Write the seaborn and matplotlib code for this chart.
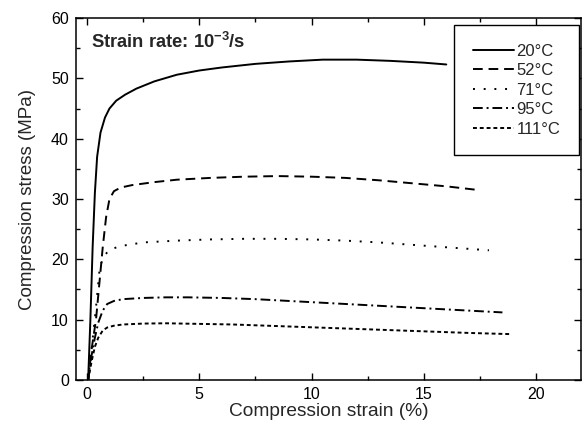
import matplotlib
matplotlib.use("Agg")
import matplotlib.pyplot as plt
import seaborn as sns
import pandas as pd
from matplotlib.ticker import MultipleLocator

# ---- data ----
strain_20 = [0.05, 0.15, 0.25, 0.35, 0.45, 0.6, 0.8, 1.0, 1.3, 1.7, 2.2, 3.0, 4.0, 5.0, 6.0, 7.5, 9.0, 10.5, 12.0, 13.5, 15.0, 16.0]
stress_20 = [0, 10, 22, 31, 37, 41, 43.5, 45, 46.3, 47.3, 48.3, 49.5, 50.6, 51.3, 51.8, 52.4, 52.8, 53.1, 53.1, 52.9, 52.6, 52.3]

strain_52 = [0.05, 0.2, 0.4, 0.55, 0.7, 0.85, 1.0, 1.2, 1.5, 2.0, 3.0, 4.0, 5.5, 7.0, 8.5, 10.0, 11.5, 13.0, 14.5, 16.0, 17.4]
stress_52 = [0, 5, 10, 16, 22, 27, 30, 31.3, 31.9, 32.3, 32.8, 33.2, 33.5, 33.7, 33.8, 33.7, 33.5, 33.1, 32.6, 32.1, 31.5]

strain_71 = [0.05, 0.2, 0.4, 0.55, 0.7, 1.0, 1.5, 2.5, 4.0, 5.5, 7.0, 8.5, 10.0, 11.5, 13.0, 14.5, 16.0, 17.9]
stress_71 = [0, 5, 12, 18, 20.3, 21.6, 22.2, 22.8, 23.1, 23.3, 23.4, 23.4, 23.3, 23.1, 22.8, 22.4, 22.0, 21.5]

strain_95 = [0.05, 0.2, 0.35, 0.5, 0.7, 0.9, 1.2, 1.6, 2.5, 3.5, 4.5, 6.0, 7.5, 9.0, 10.5, 12.0, 13.5, 15.0, 16.5, 18.5]
stress_95 = [0, 4, 7, 9.5, 11.5, 12.6, 13.1, 13.4, 13.6, 13.7, 13.7, 13.6, 13.4, 13.1, 12.8, 12.5, 12.2, 11.9, 11.6, 11.2]

strain_111 = [0.05, 0.2, 0.35, 0.5, 0.7, 0.9, 1.2, 1.6, 2.5, 3.5, 5.0, 6.5, 8.0, 9.5, 11.0, 12.5, 14.0, 15.5, 17.0, 18.9]
stress_111 = [0, 3, 5.5, 7, 8.2, 8.7, 9.0, 9.2, 9.35, 9.4, 9.3, 9.2, 9.0, 8.8, 8.6, 8.4, 8.2, 8.0, 7.8, 7.6]

labels = ["20\u00b0C", "52\u00b0C", "71\u00b0C", "95\u00b0C", "111\u00b0C"]
strains = [strain_20, strain_52, strain_71, strain_95, strain_111]
stresses = [stress_20, stress_52, stress_71, stress_95, stress_111]

# ---- styling ----
sns.set_theme(style="ticks")
plt.rcParams["font.family"] = ["Liberation Sans", "DejaVu Sans"]
plt.rcParams["mathtext.fontset"] = "custom"
plt.rcParams["mathtext.rm"] = "Liberation Sans"
plt.rcParams["mathtext.bf"] = "Liberation Sans:bold"
plt.rcParams["xtick.direction"] = "in"
plt.rcParams["ytick.direction"] = "in"

dashes = [(None, None), (5, 3), (1, 4.5), (5, 2, 1, 2), (2, 1.5)]

fig = plt.figure(figsize=(5.83, 4.24), dpi=100)
ax = fig.add_axes([0.130, 0.1038, 0.8666, 0.8537])

for lab, xs, ys, d in zip(labels, strains, stresses, dashes):
    df = pd.DataFrame({"strain": xs, "stress": ys})
    sns.lineplot(data=df, x="strain", y="stress", ax=ax, color="black",
                 linewidth=1.4, sort=False, label=lab, estimator=None)
    ln = ax.lines[-1]
    if d[0] is None:
        ln.set_linestyle("-")
    else:
        ln.set_dashes(d)

ax.set_xlim(-0.5, 22)
ax.set_ylim(0, 60)
ax.xaxis.set_major_locator(MultipleLocator(5))
ax.xaxis.set_minor_locator(MultipleLocator(2.5))
ax.yaxis.set_major_locator(MultipleLocator(10))
ax.yaxis.set_minor_locator(MultipleLocator(5))
ax.tick_params(which="both", top=True, right=True, direction="in", colors="black",
               labelsize=11.5, width=1.0)
ax.tick_params(which="major", length=5, pad=5)
ax.tick_params(which="minor", length=3)
for s in ax.spines.values():
    s.set_visible(True)
    s.set_linewidth(1.1)
    s.set_color("black")

ax.set_xlabel("Compression strain (%)", fontsize=13.8, labelpad=1)
ax.set_ylabel("Compression stress (MPa)", fontsize=13.5, labelpad=11)

ax.text(0.03, 0.935, "Strain rate: 10$^{\\mathbf{-3}}$/s", transform=ax.transAxes,
        fontsize=13.2, fontweight="bold", ha="left", va="center")

leg = ax.legend(loc="upper right", bbox_to_anchor=(0.996, 0.981), borderaxespad=0,
                frameon=True, fancybox=False, edgecolor="black", fontsize=12,
                handlelength=2.45, labelspacing=0.27, borderpad=1.12, handletextpad=0.15)
leg.get_frame().set_linewidth(1.0)
leg.get_frame().set_alpha(1)

fig.savefig("out.png", dpi=100)
